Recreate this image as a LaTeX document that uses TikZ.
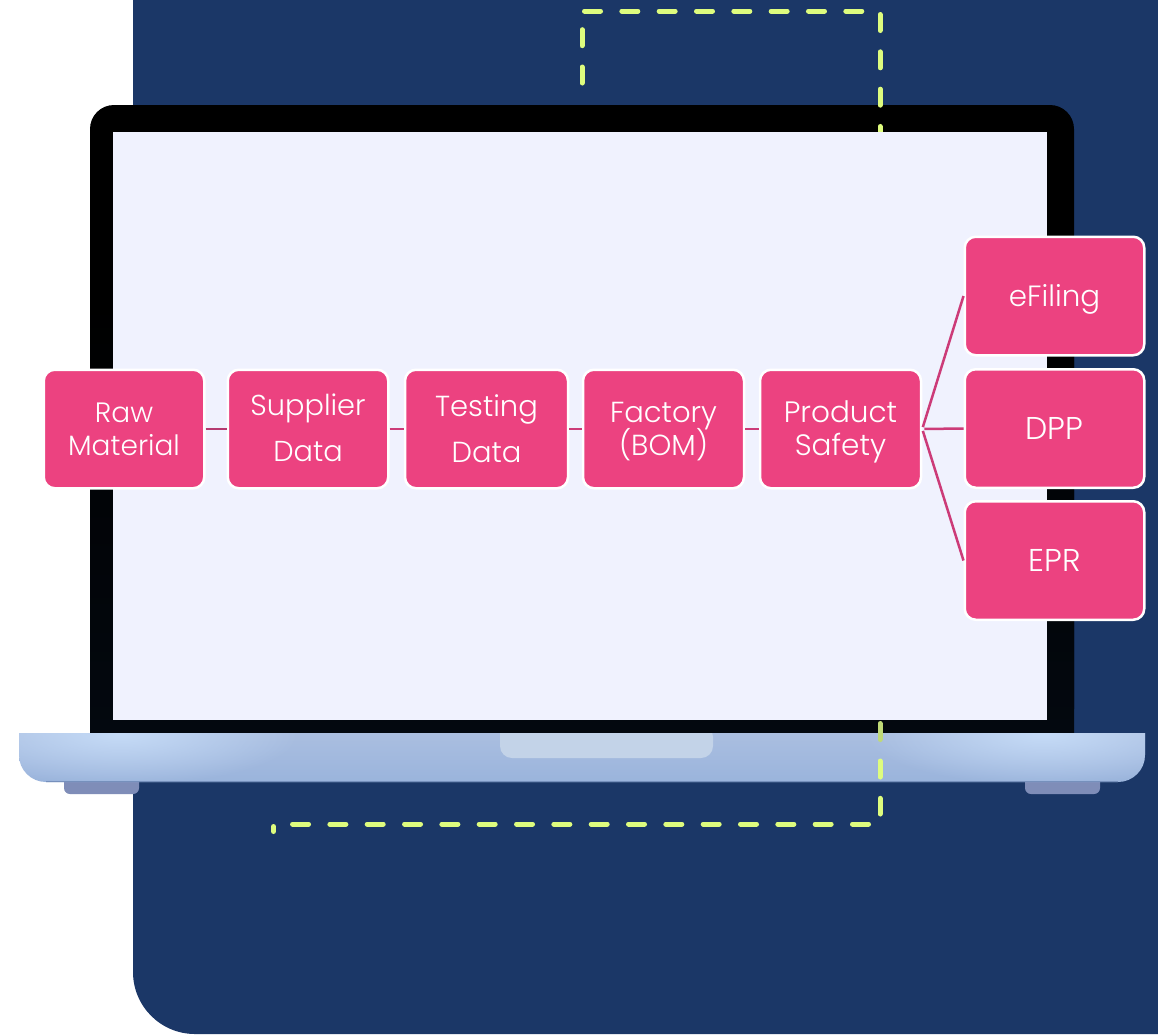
\documentclass[tikz,border=0pt]{standalone}
\usepackage{fontspec}
\setmainfont{Poppins}[UprightFont={* Light}]
\usetikzlibrary{fadings}
\definecolor{navy}{HTML}{1B3767}
\definecolor{bezel}{HTML}{000000}
\definecolor{bezelb}{HTML}{03080F}
\definecolor{screenc}{HTML}{F0F2FE}
\definecolor{pinkc}{HTML}{EC4280}
\definecolor{linkc}{HTML}{CC3B78}
\definecolor{linkd}{HTML}{B53A70}
\definecolor{lime}{HTML}{DEFC7E}
\definecolor{limedim}{HTML}{BFD977}
\definecolor{basetop}{HTML}{AABEE0}
\definecolor{basebot}{HTML}{9AB4DC}
\definecolor{baseglow}{HTML}{C5DBF7}
\definecolor{baseedge}{HTML}{7690BC}
\definecolor{notchc}{HTML}{C3D3E8}
\definecolor{footc}{HTML}{7F8DB8}
\newcommand\lbl[1]{\leavevmode\vphantom{A}\smash{#1}}
\tikzfading[name=glowfade, inner color=transparent!0, outer color=transparent!100]
\tikzset{
  x=1pt,y=-1pt,
  stagebox/.style={draw=white,line width=2.5pt,fill=pinkc,rounded corners=11pt,
    minimum width=#1,minimum height=118.5pt,inner sep=0pt,text=white,align=center},
  widebox/.style={stagebox=179.5pt},
  fs/.style 2 args={font=\fontsize{#1}{#2}\selectfont},
  link/.style={draw=linkc,line width=2.5pt},
  chain/.style={link},
  fan/.style={link,shorten <=2pt},
  dashline/.style={draw=lime,line width=5pt,line cap=round,dash pattern=on 16pt off 21.33pt},
}
\begin{document}
\begin{tikzpicture}
\useasboundingbox (0,0) rectangle (1158,1034);
\fill[white] (0,0) rectangle (1158,1034);
% navy panel
\fill[navy] (133,0) [rounded corners=62pt] -- (133,1034) [sharp corners] -- (1158,1034) -- (1158,0) -- cycle;
% laptop lid
\fill[bezel] (90,733) [rounded corners=24pt] -- (90,105) -- (1074,105) [sharp corners] [rounded corners=24pt] -- (1074,733) [sharp corners] -- cycle;
\shade[top color=black,bottom color=bezelb] (90,300) rectangle (1074,733);
% feet
\fill[footc] (64,775) [rounded corners=6pt] -- (64,794) -- (139,794) [sharp corners] -- (139,775) -- cycle;
\fill[footc] (1025,775) [rounded corners=6pt] -- (1025,794) -- (1100,794) [sharp corners] -- (1100,775) -- cycle;
% base
\begin{scope}
\clip (19,733) [rounded corners=27pt] -- (19,782) -- (1145,782) [sharp corners] -- (1145,733) -- cycle;
\shade[top color=basetop,bottom color=basebot] (19,733) rectangle (1145,782);
\fill[baseglow,path fading=glowfade] (-60,683) rectangle (300,785);
\fill[baseglow,path fading=glowfade] (864,683) rectangle (1224,785);
\fill[notchc] (500,725) [rounded corners=12pt] -- (500,758) -- (713,758) [sharp corners] [rounded corners=12pt] -- (713,725) [sharp corners] -- cycle;
\draw[baseedge,line width=1.5pt] (46,782) -- (1118,782);
\end{scope}
% dashed track
\coordinate (a1) at (582,83);
\coordinate (a2) at (582,27);
\coordinate (b1) at (584.5,11);
\coordinate (b2) at (865,11);
\coordinate (c1) at (880,14.5);
\coordinate (c2) at (880,140);
\coordinate (d1) at (880,723.5);
\coordinate (d2) at (880,742);
\coordinate (e1) at (880,761);
\coordinate (e2) at (880,814);
\coordinate (f1) at (868.5,824);
\coordinate (f2) at (290,824);
\coordinate (g1) at (273.5,826.5);
\coordinate (g2) at (273.5,831.5);
\draw[dashline] (a1) -- (a2);
\draw[dashline] (b1) -- (b2);
\draw[dashline] (c1) -- (c2);
\draw[dashline,draw=limedim,dash pattern=on 16pt off 30pt] (d1) -- (d2);
\draw[dashline] (e1) -- (e2);
\draw[dashline] (f1) -- (f2);
\draw[dashline,dash pattern=on 5pt off 10pt] (g1) -- (g2);
% screen
\fill[screenc] (113,132) rectangle (1047,720);
% nodes
\node[stagebox=160.5pt,fs={28}{33}] (raw) at (124,429) {\lbl{Raw}\\\lbl{Material}};
\node[stagebox=160.5pt,fs={28.8}{46}] (sup) at (308,429) {\lbl{Supplier}\\\lbl{Data}};
\node[stagebox=163pt,fs={29}{46}] (test) at (486.5,429) {\lbl{Testing}\\\lbl{Data}};
\node[stagebox=161pt,fs={29}{33}] (fact) at (663.5,429) {\lbl{Factory}\\\lbl{(BOM)}};
\node[stagebox=161pt,fs={29.5}{33}] (prod) at (840.5,429) {\lbl{Product}\\\lbl{Safety}};
\node[widebox,fs={29.3}{33}] (efil) at (1054.5,296) {\lbl{eFiling}};
\node[widebox,fs={31.5}{33}] (dpp) at (1054.5,428.5) {\lbl{DPP}};
\node[widebox,fs={31.5}{33}] (epr) at (1054.5,560.5) {\lbl{EPR}};
% connectors
\draw[chain,draw=linkd] (raw.east) -- (sup.west);
\draw[chain] (sup.east) -- (test.west);
\draw[chain] (test.east) -- (fact.west);
\draw[chain] (fact.east) -- (prod.west);
\draw[fan] (prod.east) -- (efil.west);
\draw[fan] (prod.east) -- (dpp.west);
\draw[fan] (prod.east) -- (epr.west);
\end{tikzpicture}
\end{document}
